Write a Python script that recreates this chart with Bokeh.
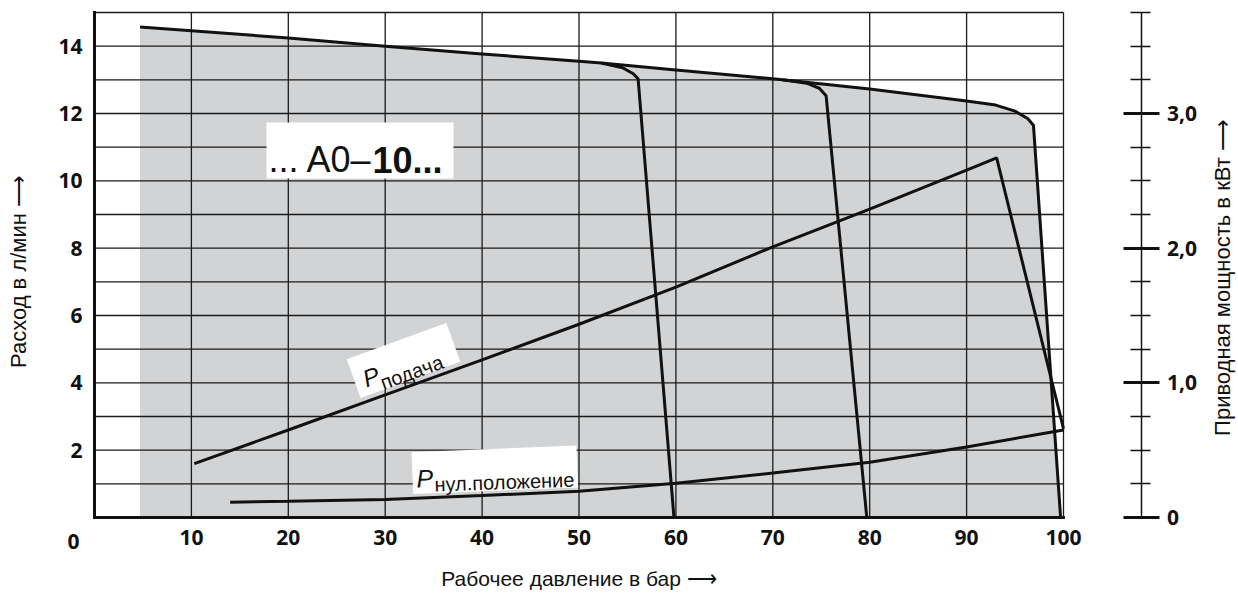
import numpy as np
from bokeh.plotting import figure
from bokeh.models import Range1d, LinearAxis, FixedTicker
from bokeh.core.properties import value
from bokeh.embed import file_html
from bokeh.resources import INLINE

# ---------------- data ----------------
# maximum-flow envelope, l/min over operating pressure (bar), incl. 100-bar cut-off
env_p = [4.7, 10, 20, 30, 40, 50, 52.3, 60, 70, 80, 90, 93, 95, 96.3, 96.9, 99.7]
env_q = [14.57, 14.46, 14.24, 14.0, 13.77, 13.55, 13.5, 13.29, 13.03, 12.73, 12.37,
         12.25, 12.07, 11.85, 11.65, 0.0]
# 60-bar cut-off branch
b60_p = [52.3, 54.5, 55.6, 56.1, 59.8]
b60_q = [13.5, 13.36, 13.18, 13.03, 0.0]
# 80-bar cut-off branch
b80_p = [71.0, 73.5, 74.8, 75.5, 79.7]
b80_q = [13.0, 12.9, 12.75, 12.53, 0.0]
# drive power, kW: delivery and zero-stroke position
pod_p = [10.3, 20, 30, 40, 50, 60, 70, 80, 90, 93.1, 100]
pod_kw = [0.40, 0.65, 0.91, 1.17, 1.435, 1.71, 2.01, 2.29, 2.58, 2.67, 0.66]
nul_p = [14, 20, 30, 40, 50, 60, 70, 80, 90, 100]
nul_kw = [0.114, 0.12, 0.133, 0.163, 0.195, 0.255, 0.33, 0.41, 0.523, 0.65]

x_ticks = [10, 20, 30, 40, 50, 60, 70, 80, 90, 100]
y_ticks = [2, 4, 6, 8, 10, 12, 14]
kw_ticks = [0, 1, 2, 3]
kw_labels = ["0", "1,0", "2,0", "3,0"]
kw_minor = [0.25, 0.5, 0.75, 1.25, 1.5, 1.75, 2.25, 2.5, 2.75, 3.25, 3.5, 3.75]

# ---------------- layout (the frame covers the whole canvas) ----------------
W, H = 1238, 596
OX, OY = 94, 517            # pixel of data origin
SX = 969 / 100.0            # px per bar
SY = 505 / 15.0             # px per l/min
XL, XR = -OX / SX, (W - OX) / SX
YB, YT = -(H - OY) / SY, OY / SY
KW_AXIS_X = 108.0


def dx(px):
    return (px - OX) / SX


def dy(py):
    return (OY - py) / SY


INK = "#111111"
GRID = "#1a1a1a"
GRAY = "#d2d3d5"
SANS = "Liberation Sans"
NUM = "Open Sans"
ARROW = "\u27f6"

p = figure(width=W, height=H, x_range=Range1d(XL, XR), y_range=Range1d(YB, YT),
           output_backend="svg", toolbar_location=None,
           x_axis_location=None, y_axis_location=None,
           min_border_left=0, min_border_right=0, min_border_top=0, min_border_bottom=0)
p.extra_y_ranges = {"kw": Range1d(YB / 4, YT / 4)}
p.grid.visible = False
p.outline_line_color = None
p.background_fill_color = "white"
p.border_fill_color = "white"


def style_numbers(ax):
    ax.major_label_text_font = NUM
    ax.major_label_text_font_style = "bold"
    ax.major_label_text_font_size = "21px"
    ax.major_label_text_color = INK
    ax.axis_line_color = INK


xa = LinearAxis(ticker=FixedTicker(ticks=x_ticks), fixed_location=0, bounds=(0, 100))
style_numbers(xa)
xa.axis_line_width = 3
xa.axis_line_cap = "square"
xa.major_tick_in = 0
xa.major_tick_out = 0
xa.minor_tick_line_color = None
xa.major_label_standoff = 12
p.add_layout(xa, "below")

ya = LinearAxis(ticker=FixedTicker(ticks=y_ticks), fixed_location=0, bounds=(0, 15))
style_numbers(ya)
ya.axis_line_width = 3
ya.axis_line_cap = "square"
ya.major_tick_in = 0
ya.major_tick_out = 0
ya.minor_tick_line_color = None
ya.major_label_standoff = 12
p.add_layout(ya, "left")

ra = LinearAxis(y_range_name="kw", fixed_location=KW_AXIS_X, bounds=(0, 3.75),
                ticker=FixedTicker(ticks=kw_ticks, minor_ticks=kw_minor),
                major_label_overrides={t: s for t, s in zip(kw_ticks, kw_labels)})
style_numbers(ra)
ra.axis_line_width = 1.5
ra.major_tick_in = 18
ra.major_tick_out = 18
ra.major_tick_line_width = 3
ra.major_tick_line_color = INK
ra.minor_tick_in = 11
ra.minor_tick_out = 9
ra.minor_tick_line_width = 1.5
ra.minor_tick_line_color = INK
ra.major_label_standoff = 8
p.add_layout(ra, "right")

# gray operating region
p.patch([env_p[0]] + env_p, [0.0] + env_q, fill_color=GRAY, line_color=None)

# grid of the chart (0..100 bar, 0..15 l/min); the last lines are the frame
gy = np.arange(1, 16)
p.segment(x0=np.zeros(len(gy)), y0=gy, x1=np.full(len(gy), 100.0), y1=gy,
          line_color=GRID, line_width=1.3)
gx = np.arange(10, 101, 10)
p.segment(x0=gx, y0=np.zeros(len(gx)), x1=gx, y1=np.full(len(gx), 15.0),
          line_color=GRID, line_width=1.3)

# white label boxes
p.rect(x=[dx(359.5)], y=[dy(150)], width=187, height=56, width_units="screen",
       height_units="screen", fill_color="white", line_color=None)
p.rect(x=[dx(403)], y=[dy(360)], width=106, height=41, width_units="screen",
       height_units="screen", angle=np.radians(20), fill_color="white", line_color=None)
p.rect(x=[dx(494.3)], y=[dy(469.3)], width=165, height=42, width_units="screen",
       height_units="screen", angle=np.radians(2.3), fill_color="white", line_color=None)

# curves
LW = 3.0
p.line(env_p, env_q, line_color=INK, line_width=LW, line_join="round")
p.line(b60_p, b60_q, line_color=INK, line_width=LW, line_join="round")
p.line(b80_p, b80_q, line_color=INK, line_width=LW, line_join="round")
p.line(pod_p, pod_kw, y_range_name="kw", line_color=INK, line_width=LW)
p.line(nul_p, nul_kw, y_range_name="kw", line_color=INK, line_width=LW)

# texts inside the chart
p.text(x=[dx(268)], y=[dy(159)], text=["... A0\u2013"], text_font=value(SANS),
       text_font_size="36px", text_color=INK, text_baseline="alphabetic", text_align="left")
p.text(x=[dx(372)], y=[dy(159)], text=["10..."], text_font=value(SANS),
       text_font_size="36px", text_font_style="bold", text_color=INK,
       text_baseline="alphabetic", text_align="left")

a20 = np.radians(20)
p.text(x=[dx(363)], y=[dy(379)], text=["P"], angle=a20, text_font=value(SANS),
       text_font_size="24px", text_font_style="italic", text_color=INK,
       text_baseline="alphabetic", text_align="left")
p.text(x=[dx(380.5)], y=[dy(383)], text=["подача"], angle=a20, text_font=value(SANS),
       text_font_size="20px", text_color=INK, text_baseline="alphabetic", text_align="left")

a2 = np.radians(2.0)
p.text(x=[dx(416)], y=[dy(478)], text=["P"], angle=a2, text_font=value(SANS),
       text_font_size="25px", text_font_style="italic", text_color=INK,
       text_baseline="alphabetic", text_align="left")
p.text(x=[dx(434)], y=[dy(484)], text=["нул.положение"], angle=a2, text_font=value(SANS),
       text_font_size="20px", text_color=INK, text_baseline="alphabetic", text_align="left")

# origin label and axis titles
p.text(x=[dx(73)], y=[dy(541)], text=["0"], text_font=value(NUM), text_font_style="bold",
       text_font_size="21px", text_color=INK, text_align="center", text_baseline="middle")
p.text(x=[50], y=[dy(578)], text=["Рабочее давление в бар " + ARROW], text_font=value(SANS),
       text_font_size="21px", text_color=INK, text_align="center", text_baseline="middle")
p.text(x=[dx(18)], y=[dy(271)], text=["Расход в л/мин " + ARROW], angle=np.pi / 2,
       text_font=value(SANS), text_font_size="22px", text_color=INK,
       text_align="center", text_baseline="middle")
p.text(x=[dx(1222)], y=[dy(277)], text=["Приводная мощность в кВт " + ARROW], angle=np.pi / 2,
       text_font=value(SANS), text_font_size="22px", text_color=INK,
       text_align="center", text_baseline="middle")

open("out.html", "w").write(file_html(p, INLINE))
